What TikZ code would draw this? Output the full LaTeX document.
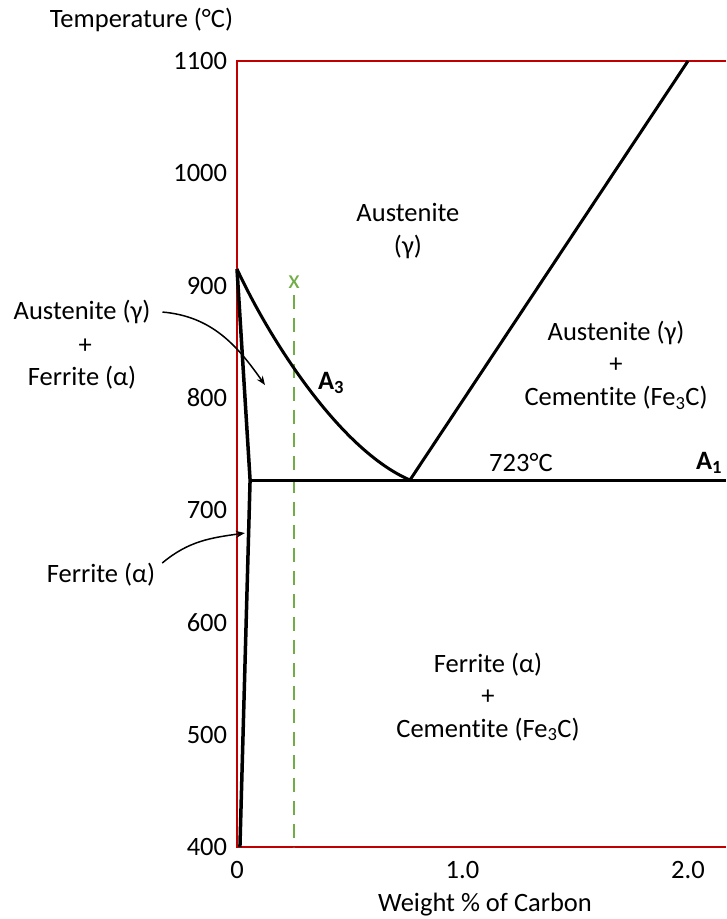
\documentclass[tikz,border=0pt]{standalone}
\usepackage{fontspec}
\setmainfont{Carlito}[Ligatures=NoCommon]
\usetikzlibrary{arrows.meta}
\definecolor{framered}{RGB}{192,0,0}
\definecolor{xgreen}{RGB}{112,173,71}

\begin{document}
\begin{tikzpicture}[x={(225.5pt,0pt)},y={(0pt,1.1229pt)},every node/.style={font=\fontsize{26.5}{32.5}\selectfont, inner sep=0pt, outer sep=0pt, align=center},phase/.style={line width=3pt, black, line join=round},callout/.style={line width=1.5pt, -{Stealth[length=9pt,width=7pt]}}]
\useasboundingbox (-1.051,335.9) rectangle (2.1685,1154.3);
% axes
\draw[framered, line width=2.5pt] (2.1685,1100) -- (0,1100) -- (0,400) -- (2.1685,400);
\foreach \t in {400,500,...,1100} \node[anchor=east] (t\t) at (-0.044,\t) {\t};
\node (w0) at (0,379.5) {0};
\node (w1) at (1,379.5) {1.0};
\node (w2) at (2,379.5) {2.0};
\node (ylabel) at (-0.4235,1136.5) {Temperature (°C)};
\node (xlabel) at (1.0998,348.3) {Weight \% of Carbon};
% alloy x
\coordinate (xtop) at (0.253,891.6);
\coordinate (xbot) at (0.253,400);
\draw[xgreen, line width=2.5pt, dash pattern=on 14pt off 9pt] (xtop) -- (xbot);
\node[text=xgreen] (xmark) at (0.253,903.2) {x};
% phase boundaries
\coordinate (Fe912) at (0,914.7);
\coordinate (eut) at (0.767,726.8);
\coordinate (cm) at (2.0,1100);
\coordinate (aMax) at (0.058,726.8);
\coordinate (aBot) at (0.013,400);
\coordinate (A1start) at (0.066,726.8);
\coordinate (A1end) at (2.1685,726.8);
\draw[phase] (Fe912) .. controls (0.146,851.5) and (0.457,753.5) .. (eut) -- (cm);
\draw[phase, line width=3.5pt] (Fe912) -- (aMax) -- (aBot);
\draw[phase] (A1start) -- (A1end);
% labels
\node (aus) at (0.758,948.6) {Austenite\\(γ)};
\node (auscem) at (1.681,829.2) {Austenite (γ)\\+\\Cementite (Fe\textsubscript{3}C)};
\node (fercem) at (1.113,533.6) {Ferrite (α)\\+\\Cementite (Fe\textsubscript{3}C)};
\node (T723) at (1.259,742) {723°C};
\node (A1) at (2.093,742) {\textbf{A\textsubscript{1}}};
\node (A3) at (0.417,813.2) {\textbf{A\textsubscript{3}}};
\node (lAus) at (-0.687,876.4) {Austenite (γ)};
\node (lPlus) at (-0.673,846.1) {+};
\node (lFer) at (-0.687,817.7) {Ferrite (α)};
\node (fer) at (-0.603,642.2) {Ferrite (α)};
% callouts
\coordinate (inTwo) at (0.124,811.4);
\coordinate (inFer) at (0.035,679.6);
\draw[callout] ([xshift=12pt]lAus.east) to[out=-5,in=125] (inTwo);
\draw[callout] ([xshift=7pt,yshift=12pt]fer.east) to[out=40,in=188] (inFer);
\end{tikzpicture}
\end{document}
